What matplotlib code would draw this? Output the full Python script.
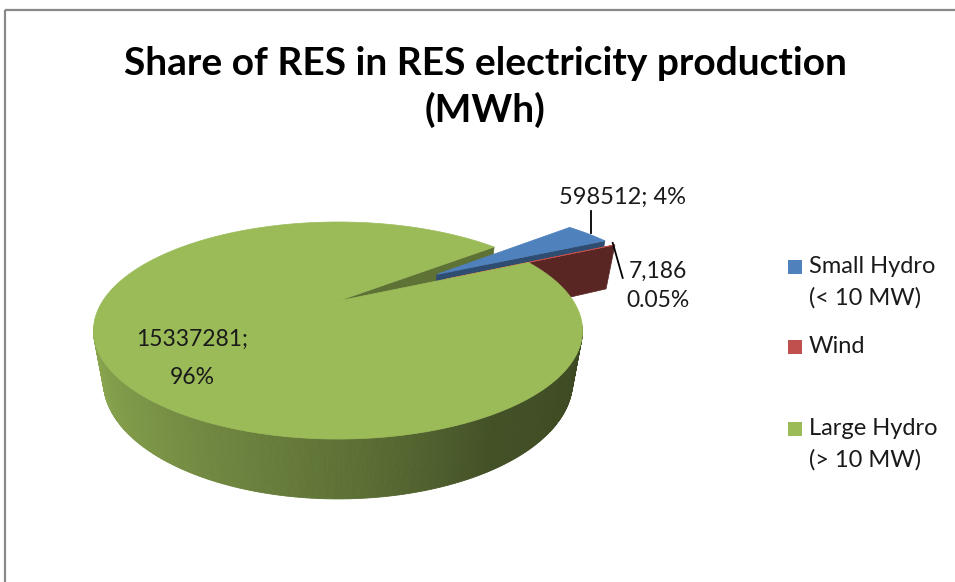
import numpy as np
import matplotlib
matplotlib.use("Agg")
import matplotlib.pyplot as plt
from matplotlib.patches import Polygon, Rectangle
from matplotlib.colors import to_rgb

# data
categories = ["Small Hydro\n(< 10 MW)", "Wind", "Large Hydro\n(> 10 MW)"]
values = [598512, 7186, 15337281]
colors = ["#4F81BD", "#C0504D", "#9BBB59"]
exploded = [True, True, False]
title = "Share of RES in RES electricity production\n(MWh)"

plt.rcParams['font.family'] = ['Lato', 'DejaVu Sans']

# fake 3d pie geometry, in pixels
CX, CY = 338, 301      # where the pie centre lands on screen
A, B = 235.3, 100.5    # horizontal / vertical radius scale
K = 0.272              # perspective along depth
KZ = 0.039             # perspective along thickness
D = 51.3               # thickness
START = 39.0           # first slice starts here, clockwise
EXPLODE = 0.535

def proj(x, y, z=0.0):
    s = 1.0 / (1.0 + K*y + KZ*z)
    return CX + A*x*s, CY + (-B*y + D*z)*s

def shade(c, f):
    r, g, b = to_rgb(c)
    return (r*f, g*f, b*f)

# wall shading vs angle (deg)
wall_deg = [0, 196, 230, 260, 280, 300, 345, 360]
wall_f = [0.92, 0.92, 0.79, 0.66, 0.56, 0.43, 0.39, 0.39]
cut_f = [0.6, 0.47, 0.61]

fig = plt.figure(figsize=(9.55, 5.82), dpi=100)
ax = fig.add_axes([0, 0, 1, 1])
ax.set_xlim(0, 955)
ax.set_ylim(582, 0)
ax.axis('off')

fracs = np.array(values, dtype=float) / sum(values)
a_hi = START - 360*np.concatenate([[0], np.cumsum(fracs)[:-1]])
a_lo = a_hi - 360*fracs

offsets = []
for i in range(len(values)):
    mid = np.radians((a_hi[i] + a_lo[i]) / 2)
    e = EXPLODE if exploded[i] else 0.0
    offsets.append((e*np.cos(mid), e*np.sin(mid)))

def arc(i):
    n = max(8, int(abs(a_hi[i] - a_lo[i]) * 2))
    return np.linspace(np.radians(a_lo[i]), np.radians(a_hi[i]), n)

def draw_cuts(i):
    ox, oy = offsets[i]
    lo, hi = np.radians(a_lo[i]), np.radians(a_hi[i])
    for a, vis in ((lo, np.cos(lo) > 0), (hi, np.cos(hi) < 0)):
        if not vis:
            continue
        p = [proj(ox, oy, 0), proj(ox + np.cos(a), oy + np.sin(a), 0),
             proj(ox + np.cos(a), oy + np.sin(a), 1), proj(ox, oy, 1)]
        c = shade(colors[i], cut_f[i])
        ax.add_patch(Polygon(p, closed=True, fc=c, ec=c, lw=0.5))

def draw_wall(i):
    ox, oy = offsets[i]
    t = arc(i)
    for j in range(len(t) - 1):
        tm = (t[j] + t[j+1]) / 2
        if np.sin(tm) > -K + 0.03:
            continue
        c = shade(colors[i], np.interp(np.degrees(tm) % 360, wall_deg, wall_f))
        p = [proj(ox + np.cos(t[j]), oy + np.sin(t[j]), 0),
             proj(ox + np.cos(t[j+1]), oy + np.sin(t[j+1]), 0),
             proj(ox + np.cos(t[j+1]), oy + np.sin(t[j+1]), 1),
             proj(ox + np.cos(t[j]), oy + np.sin(t[j]), 1)]
        ax.add_patch(Polygon(p, closed=True, fc=c, ec=c, lw=0.6))

def draw_top(i):
    ox, oy = offsets[i]
    top = [proj(ox, oy, 0)] + [proj(ox + np.cos(tt), oy + np.sin(tt), 0) for tt in arc(i)]
    ax.add_patch(Polygon(top, closed=True, fc=colors[i], ec=colors[i], lw=0.5))

# back to front: the big slice's cut face sits behind the pulled-out slices
for i in range(len(values)):
    if not exploded[i]:
        draw_cuts(i)
for i in range(len(values)):
    if exploded[i]:
        draw_wall(i)
        draw_cuts(i)
for i in range(len(values)):
    if exploded[i]:
        draw_top(i)
for i in range(len(values)):
    if not exploded[i]:
        draw_wall(i)
        draw_top(i)

# data labels
pct = fracs * 100
mid0 = np.radians((a_hi[0] + a_lo[0]) / 2)
bx, by = proj(offsets[0][0] + np.cos(mid0), offsets[0][1] + np.sin(mid0))
ax.plot([bx + 3, bx + 3], [by - 1, by - 23], color='black', lw=1.3)
ax.text(bx + 35, by - 36, "%d; %.0f%%" % (values[0], pct[0]), fontsize=17,
        ha='center', va='center', color='#1a1a1a')

mid1 = np.radians((a_hi[1] + a_lo[1]) / 2)
rx, ry = proj(offsets[1][0] + np.cos(mid1), offsets[1][1] + np.sin(mid1))
ax.plot([rx - 2, rx + 8], [ry - 2, ry + 33], color='black', lw=1.3)
ax.text(rx + 43, ry + 41, "{:,}\n{:.2f}%".format(values[1], pct[1]), fontsize=16.5,
        ha='center', va='center', linespacing=1.52, color='#1a1a1a')

ax.text(192, 358, "%d;\n%.0f%%" % (values[2], pct[2]), fontsize=16.5,
        ha='center', va='center', linespacing=2.0, color='#1a1a1a')

# legend
leg_y = [267, 347, 429]
for i in range(len(categories)):
    ax.add_patch(Rectangle((788, leg_y[i] - 7), 14, 14, fc=colors[i], ec='none'))
    ax.text(809, leg_y[i] - 11, categories[i], fontsize=17, ha='left', va='top',
            linespacing=1.55, color='#1a1a1a')

# title
ax.text(485, 87, title, fontsize=28, fontweight='bold', ha='center', va='center',
        linespacing=1.39, color='black')

# chart border
ax.plot([4.5, 955], [10, 10], color='#888888', lw=1.6, solid_capstyle='butt')
ax.plot([4.5, 4.5], [10, 582], color='#888888', lw=1.6, solid_capstyle='butt')

fig.savefig("out.png", dpi=100)
